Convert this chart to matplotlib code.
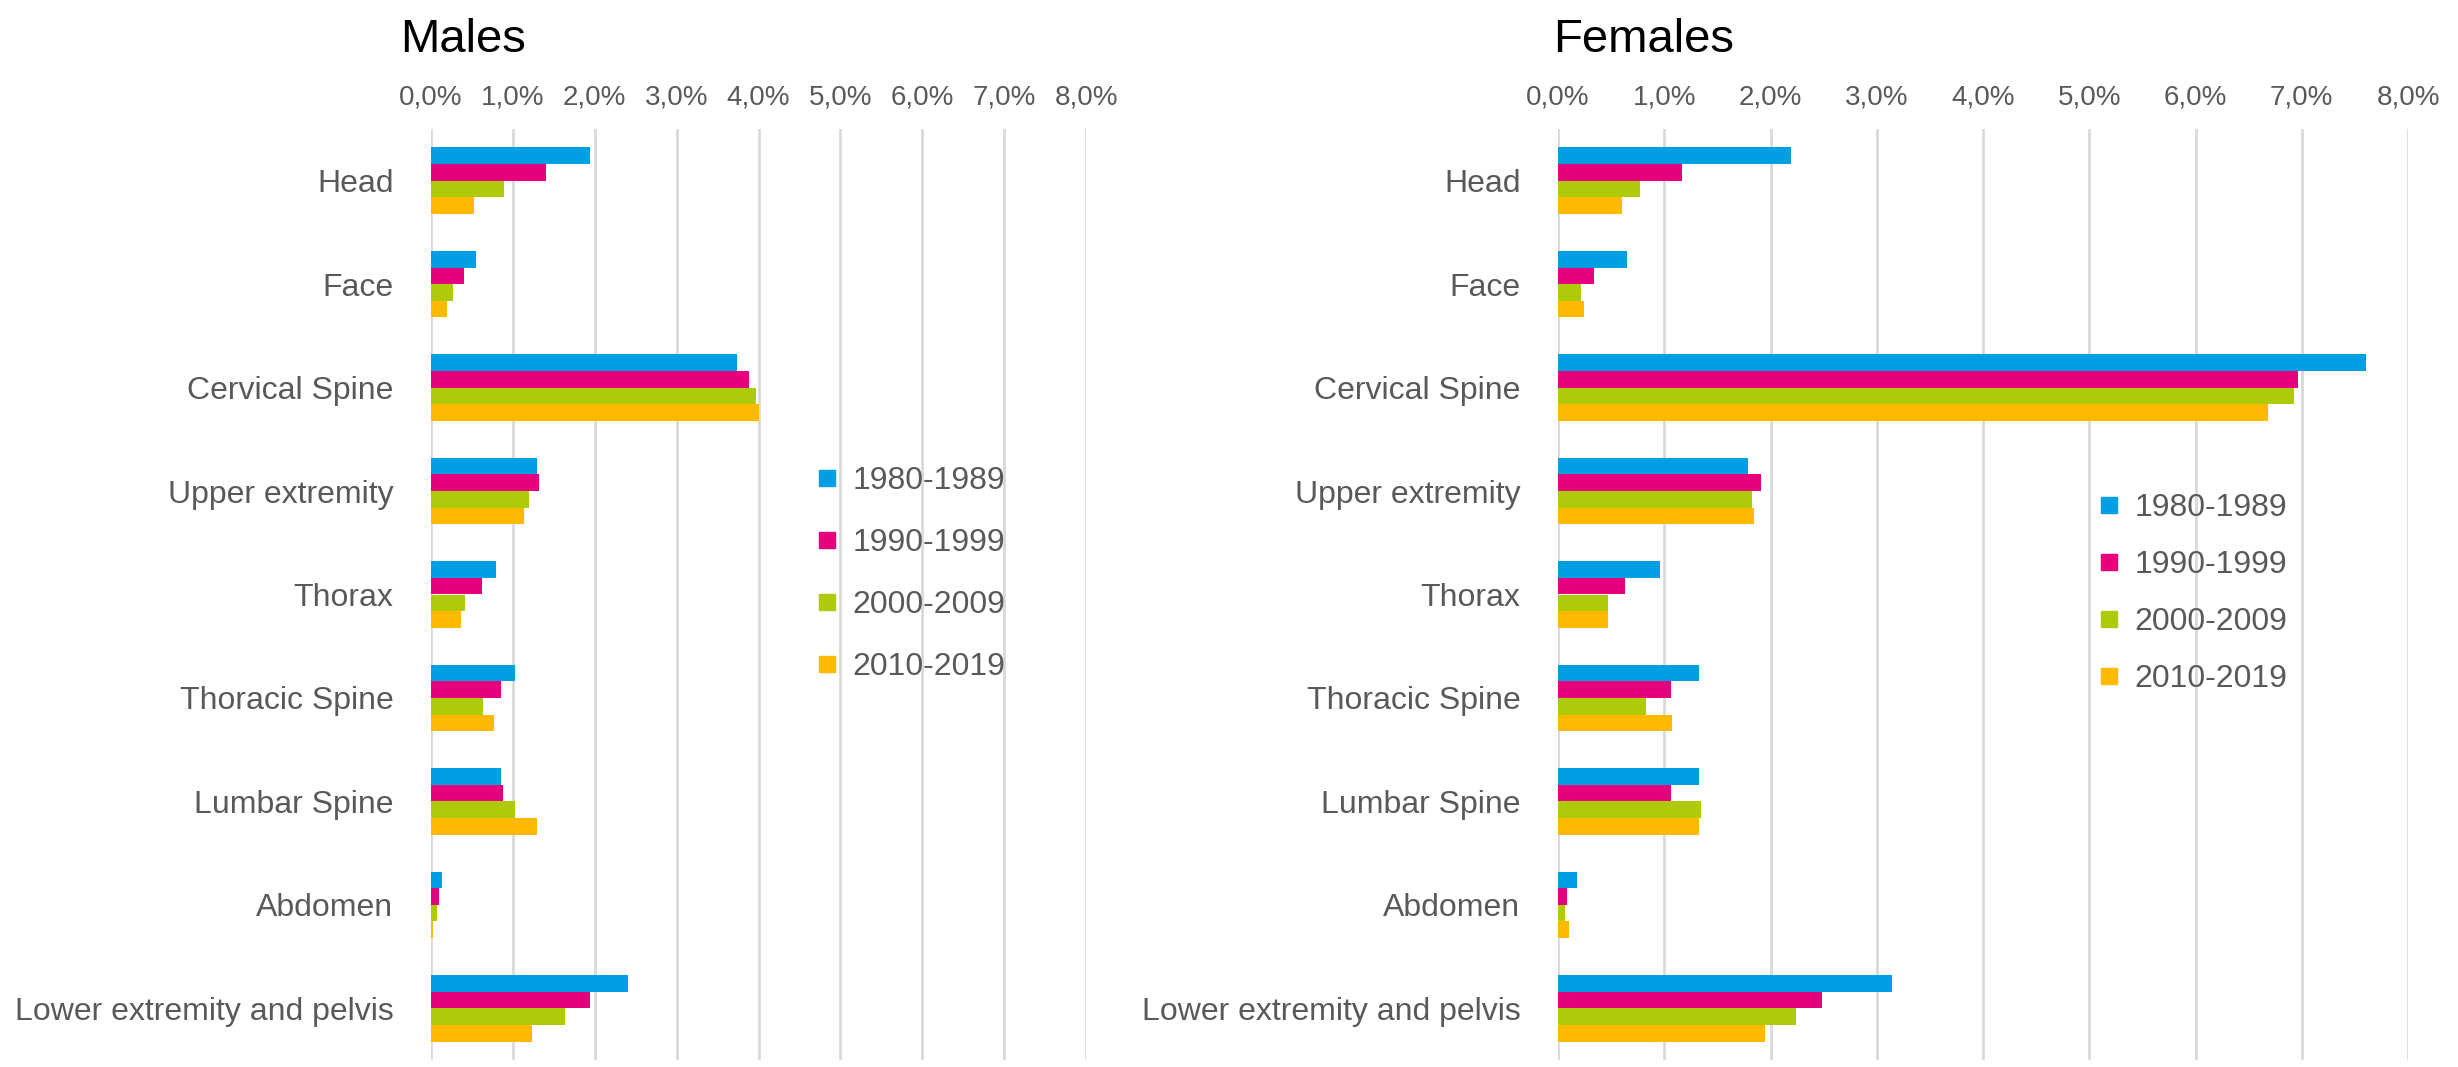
import matplotlib
matplotlib.use("Agg")
import matplotlib.pyplot as plt
from matplotlib.lines import Line2D
import numpy as np

plt.rcParams['font.family'] = ['Liberation Sans', 'DejaVu Sans']

categories = ["Head", "Face", "Cervical Spine", "Upper extremity", "Thorax",
              "Thoracic Spine", "Lumbar Spine", "Abdomen", "Lower extremity and pelvis"]
periods = ["1980-1989", "1990-1999", "2000-2009", "2010-2019"]
colors = ["#009FE3", "#E6007E", "#AFCA0B", "#FFB900"]

# values in percent
males_1980 = [1.94, 0.55, 3.74, 1.29, 0.79, 1.02, 0.85, 0.14, 2.40]
males_1990 = [1.41, 0.40, 3.89, 1.32, 0.62, 0.85, 0.88, 0.10, 1.94]
males_2000 = [0.89, 0.27, 3.97, 1.20, 0.42, 0.64, 1.03, 0.07, 1.64]
males_2010 = [0.53, 0.20, 4.00, 1.14, 0.37, 0.77, 1.29, 0.03, 1.23]

females_1980 = [2.19, 0.645, 7.60, 1.79, 0.96, 1.33, 1.33, 0.18, 3.14]
females_1990 = [1.165, 0.336, 6.96, 1.91, 0.63, 1.06, 1.06, 0.087, 2.48]
females_2000 = [0.77, 0.217, 6.93, 1.83, 0.47, 0.83, 1.35, 0.07, 2.24]
females_2010 = [0.60, 0.244, 6.68, 1.84, 0.466, 1.07, 1.33, 0.108, 1.95]

x_ticks = [0, 1, 2, 3, 4, 5, 6, 7, 8]
x_ticklabels = ["0,0%", "1,0%", "2,0%", "3,0%", "4,0%", "5,0%", "6,0%", "7,0%", "8,0%"]

W, H = 2458, 1067
fig = plt.figure(figsize=(W / 100, H / 100), dpi=100)

TEXT = "#595959"
GRID = "#D9D9D9"


def panel(rect, series, title, title_x, legend_anchor, labelspacing):
    ax = fig.add_axes(rect)
    y = np.arange(len(categories))
    bh = 0.161
    offsets = [-1.5 * bh, -0.5 * bh, 0.5 * bh, 1.5 * bh]
    for vals, off, col, lab in zip(series, offsets, colors, periods):
        ax.barh(y + off, vals, height=bh, color=col, label=lab, zorder=3)
    ax.set_ylim(len(categories) - 0.5, -0.5)
    ax.set_xlim(0, 8)
    ax.set_xticks(x_ticks)
    ax.set_xticklabels(x_ticklabels)
    ax.xaxis.tick_top()
    ax.set_yticks(y)
    ax.set_yticklabels(categories)
    ax.tick_params(axis='x', length=0, pad=13, labelsize=20, labelcolor=TEXT)
    ax.tick_params(axis='y', length=0, pad=27, labelsize=23, labelcolor=TEXT)
    for s in ax.spines.values():
        s.set_visible(False)
    ax.grid(axis='x', color=GRID, linewidth=2, zorder=0)
    ax.set_axisbelow(True)
    fig.text(title_x, 1 - 52 / H, title, fontsize=34, color="black",
             ha='left', va='baseline')
    handles = [Line2D([], [], marker='s', linestyle='none', markersize=11,
                      markerfacecolor=c, markeredgecolor=c) for c in colors]
    fig.legend(handles, periods, loc='upper left',
               bbox_to_anchor=legend_anchor, frameon=False,
               fontsize=23, labelcolor=TEXT, handlelength=0.7,
               handletextpad=0.45, labelspacing=labelspacing,
               borderpad=0, borderaxespad=0)
    return ax


panel([431 / W, 1 - 1060 / H, (1086 - 431) / W, 931 / H],
      [males_1980, males_1990, males_2000, males_2010],
      "Males", 400 / W, (816 / W, 1 - 466 / H), 1.0)
panel([1558 / W, 1 - 1060 / H, (2408 - 1558) / W, 931 / H],
      [females_1980, females_1990, females_2000, females_2010],
      "Females", 1553 / W, (2098 / W, 1 - 493 / H), 0.85)

fig.savefig("out.png", dpi=100)
